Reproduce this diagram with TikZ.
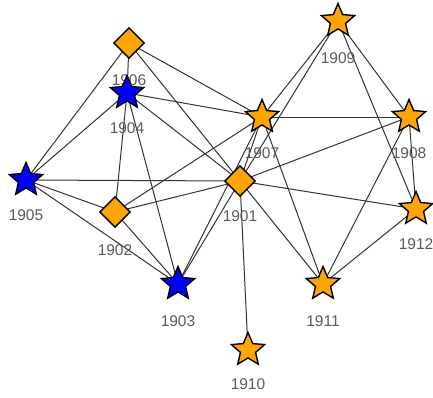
\documentclass[tikz,border=0pt]{standalone}
\usepackage{fontspec}
\setmainfont{Liberation Sans}
\usetikzlibrary{shapes.geometric,backgrounds}
\definecolor{edgegray}{HTML}{333333}
\definecolor{labelgray}{HTML}{5A5A5A}
\definecolor{gold}{HTML}{FFA500}
\definecolor{royal}{HTML}{0000FF}
\tikzset{
  starnode/.style={star, star points=5, star point ratio=2.2, minimum size=35pt,
    inner sep=0pt, draw=black, line width=1.4pt},
  diamondnode/.style={diamond, minimum width=31pt, minimum height=31pt, aspect=1,
    inner sep=0pt, draw=black, line width=1.4pt, fill=gold},
  goldstar/.style={starnode, fill=gold},
  bluestar/.style={starnode, fill=royal},
  lbl/.style={text=labelgray, font=\fontsize{15.5}{17}\selectfont, inner sep=0pt},
  edge/.style={draw=edgegray, line width=1pt}
}
\begin{document}
\begin{tikzpicture}[x=1pt, y=-1pt]
\useasboundingbox (0,0) rectangle (433,397);

% actors
\node[diamondnode] (n1901) at (240,181) {};
\node[diamondnode] (n1902) at (115,212) {};
\node[bluestar]    (n1903) at (178,284) {};
\node[bluestar]    (n1904) at (127,93)  {};
\node[bluestar]    (n1905) at (26,180)  {};
\node[diamondnode] (n1906) at (129,43)  {};
\node[goldstar]    (n1907) at (262,117) {};
\node[goldstar]    (n1908) at (409,117) {};
\node[goldstar]    (n1909) at (338,21)  {};
\node[goldstar]    (n1910) at (248,350) {};
\node[goldstar]    (n1911) at (323,284) {};
\node[goldstar]    (n1912) at (416,209) {};

% ties, drawn behind the actors
\begin{pgfonlayer}{background}
\foreach \a/\b in {1906/1905, 1906/1904, 1906/1907, 1906/1901,
                   1904/1905, 1904/1902, 1904/1903, 1904/1907, 1904/1901,
                   1905/1901, 1905/1902, 1905/1903,
                   1902/1903, 1902/1907, 1902/1901,
                   1903/1901, 1903/1907,
                   1901/1907, 1901/1909, 1901/1908, 1901/1912, 1901/1911, 1901/1910,
                   1907/1909, 1907/1908, 1907/1911,
                   1909/1908, 1909/1912,
                   1908/1912, 1908/1911,
                   1912/1911}
  \draw[edge] (n\a.center) -- (n\b.center);
% year labels
\foreach \y/\d in {1901/35, 1902/38, 1903/37, 1904/35, 1905/35, 1906/37,
                   1907/36, 1908/36, 1909/37, 1910/34, 1911/37, 1912/35}
  \node[lbl] (l\y) at ([yshift=-\d pt]n\y.center) {\y};
\end{pgfonlayer}
\end{tikzpicture}
\end{document}
